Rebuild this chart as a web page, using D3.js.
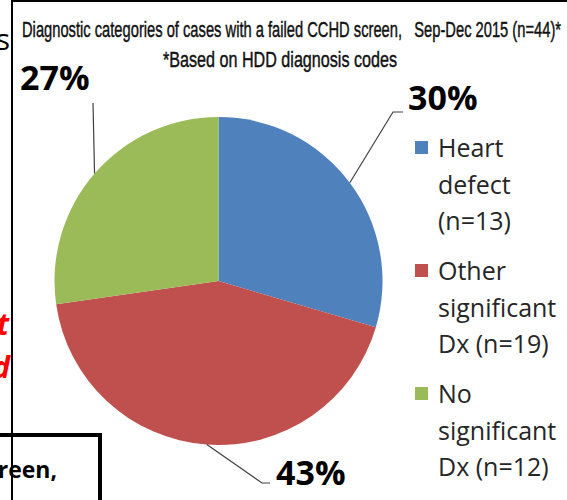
<!DOCTYPE html>
<html><head><meta charset="utf-8">
<script src="https://cdn.jsdelivr.net/npm/d3@7"></script>
<style>body{margin:0;background:#fff}svg{display:block}</style>
</head><body>
<script>
const categories = ["Heart defect (n=13)", "Other significant Dx (n=19)", "No significant Dx (n=12)"];
const legendLines = [["Heart", "defect", "(n=13)"], ["Other", "significant", "Dx (n=19)"], ["No", "significant", "Dx (n=12)"]];
const counts = [13, 19, 12];
const percentLabels = ["30%", "43%", "27%"];
const colors = ["#4F81BD", "#C0504D", "#9BBB59"];
const titleText = "Diagnostic categories of cases with a failed CCHD screen,   Sep-Dec 2015 (n=44)*";
const subtitleText = "*Based on HDD diagnosis codes";

const W = 567, H = 500;
const svg = d3.select("body").append("svg").attr("width", W).attr("height", H);

// slide fragments
svg.append("text").attr("x", 10).attr("y", 50).attr("text-anchor", "end")
  .attr("font-family", "Open Sans").attr("font-size", 30).attr("fill", "#000").text("s");
svg.append("text").attr("x", 9).attr("y", 335).attr("text-anchor", "end")
  .attr("font-family", "Open Sans").attr("font-size", 30).attr("font-weight", "bold").attr("font-style", "italic").attr("fill", "#FF0000").text("t");
svg.append("text").attr("x", 10).attr("y", 378).attr("text-anchor", "end")
  .attr("font-family", "Open Sans").attr("font-size", 30).attr("font-weight", "bold").attr("font-style", "italic").attr("fill", "#FF0000").text("d");

// frame
svg.append("line").attr("x1", 12).attr("x2", 12).attr("y1", 0).attr("y2", H).attr("stroke", "#000").attr("stroke-width", 2);
svg.append("line").attr("x1", 12).attr("x2", W).attr("y1", 1).attr("y2", 1).attr("stroke", "#000").attr("stroke-width", 2);

// title
svg.append("text").attr("x", 22).attr("y", 37).attr("textLength", 539).attr("lengthAdjust", "spacingAndGlyphs")
  .attr("font-family", "Liberation Sans Narrow, Liberation Sans").attr("font-size", 22).attr("fill", "#111")
  .attr("stroke", "#111").attr("stroke-width", 0.45).style("white-space", "pre").text(titleText);
svg.append("text").attr("x", 163).attr("y", 67).attr("textLength", 234).attr("lengthAdjust", "spacingAndGlyphs")
  .attr("font-family", "Liberation Sans Narrow, Liberation Sans").attr("font-size", 22).attr("fill", "#111")
  .attr("stroke", "#111").attr("stroke-width", 0.45).text(subtitleText);

// pie
const cx = 218.5, cy = 281, r = 164;
const pie = d3.pie().sort(null).value(d => d);
const arcs = pie(counts);
const arc = d3.arc().innerRadius(0).outerRadius(r);
const g = svg.append("g").attr("transform", `translate(${cx},${cy})`);
g.selectAll("path").data(arcs).join("path").attr("d", arc).attr("fill", (d, i) => colors[i]);

// leader lines & labels
const edge = d3.arc().innerRadius(r).outerRadius(r);
const layout = [
  { elbow: [393, 112], end: [403, 112], label: [408, 110], anchor: "start" },
  { elbow: [262, 483], end: [270, 483], label: [276, 485], anchor: "start" },
  { elbow: [93, 103], end: [93, 103], label: [20, 90], anchor: "start" }
];
arcs.forEach((d, i) => {
  const c = edge.centroid(d);
  const p0 = [cx + c[0], cy + c[1]];
  const L = layout[i];
  svg.append("path").attr("d", d3.line()([p0, L.elbow, L.end]))
    .attr("fill", "none").attr("stroke", "#404040").attr("stroke-width", 1.2);
  svg.append("text").attr("x", L.label[0]).attr("y", L.label[1]).attr("text-anchor", L.anchor)
    .attr("font-family", "Open Sans").attr("font-weight", "bold").attr("font-size", 34)
    .attr("fill", "#000").text(percentLabels[i]);
});

// legend
const legendTop = [141, 264, 387];
legendLines.forEach((lines, i) => {
  svg.append("rect").attr("x", 415).attr("y", legendTop[i]).attr("width", 13).attr("height", 13).attr("fill", colors[i]);
  lines.forEach((t, j) => {
    svg.append("text").attr("x", 438).attr("y", legendTop[i] + 16 + j * 36.5)
      .attr("font-family", "Open Sans").attr("font-size", 25).attr("fill", "#262626").text(t);
  });
});

// bottom-left box fragment
svg.append("rect").attr("x", -10).attr("y", 435).attr("width", 110).attr("height", 100)
  .attr("fill", "none").attr("stroke", "#000").attr("stroke-width", 4);
svg.append("text").attr("x", 57).attr("y", 478).attr("text-anchor", "end")
  .attr("font-family", "Open Sans").attr("font-weight", "bold").attr("font-size", 23).attr("fill", "#000").text("screen,");
svg.append("line").attr("x1", 12).attr("x2", 12).attr("y1", 435).attr("y2", H).attr("stroke", "#000").attr("stroke-width", 2);
</script>
</body></html>
